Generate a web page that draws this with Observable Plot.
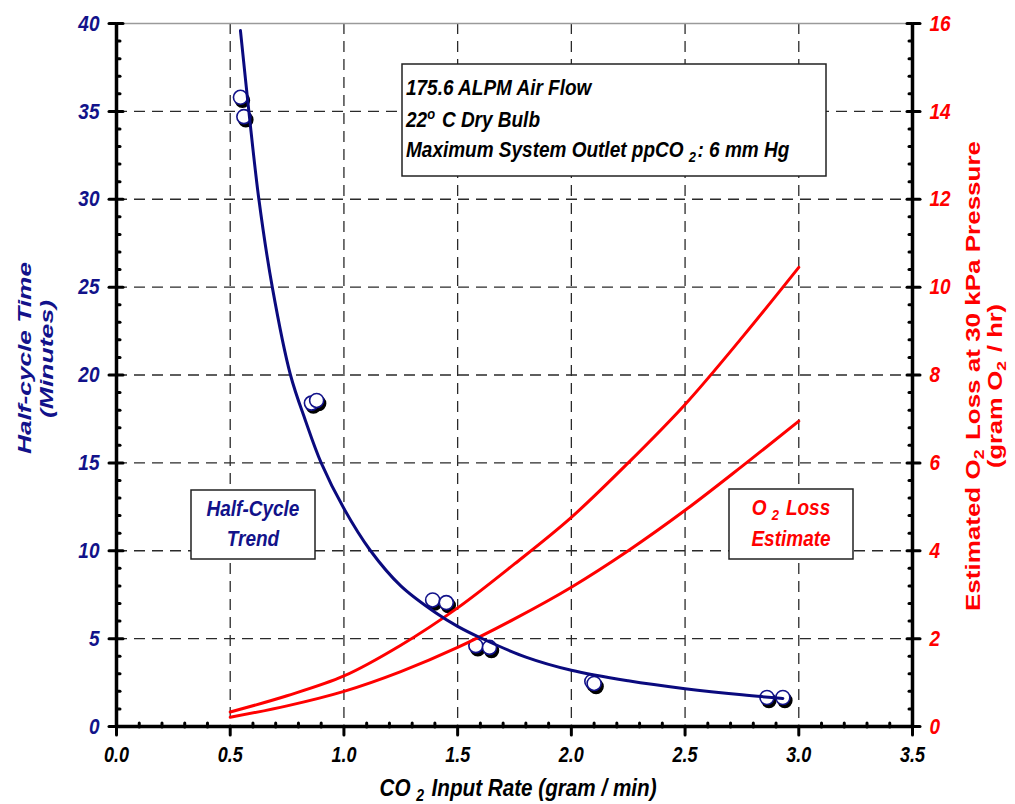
<!DOCTYPE html>
<html><head><meta charset="utf-8">
<script src="https://cdn.jsdelivr.net/npm/d3@7"></script>
<script src="https://cdn.jsdelivr.net/npm/@observablehq/plot@0.6"></script>
<style>
body{margin:0;background:#fff;}
#chart{width:1015px;height:804px;}
</style></head><body><div id="chart"></div>
<script>
// ---- data ----
const xMajor = [0, 0.5, 1.0, 1.5, 2.0, 2.5, 3.0, 3.5];
const xGridTicks = [0.5, 1.0, 1.5, 2.0, 2.5, 3.0];
const xMinor = [0.1,0.2,0.3,0.4,0.6,0.7,0.8,0.9,1.1,1.2,1.3,1.4,1.6,1.7,1.8,1.9,2.1,2.2,2.3,2.4,2.6,2.7,2.8,2.9,3.1,3.2,3.3,3.4];
const yMajor = [0, 5, 10, 15, 20, 25, 30, 35, 40];
const yGridTicks = [5, 10, 15, 20, 25, 30, 35];
const yMinor = [1,2,3,4,6,7,8,9,11,12,13,14,16,17,18,19,21,22,23,24,26,27,28,29,31,32,33,34,36,37,38,39];
const o2Max = 16; // right axis top (gram O2 / hr)

// measured half-cycle times (minutes) vs CO2 input rate (g/min)
const measX = [0.545, 0.56, 0.857, 0.88, 1.39, 1.45, 1.58, 1.64, 2.09, 2.10, 2.86, 2.93];
const measY = [35.8, 34.7, 18.4, 18.55, 7.2, 7.05, 4.6, 4.5, 2.56, 2.45, 1.65, 1.65];

// half-cycle trend curve
const trendX = [0.545, 0.582, 0.626, 0.685, 0.765, 0.831, 0.90, 1.0, 1.117, 1.25, 1.4, 1.5, 1.6, 1.8, 2.0, 2.25, 2.5, 2.75, 2.93];
const trendY = [39.6, 35.0, 30.0, 25.0, 20.0, 17.4, 15.0, 12.4, 10.0, 8.0, 6.5, 5.7, 5.05, 3.95, 3.2, 2.6, 2.15, 1.8, 1.6];

// O2 loss estimate curves (gram O2 / hr)
const o2X = [0.5, 0.75, 1.0, 1.25, 1.5, 1.75, 2.0, 2.25, 2.5, 2.75, 3.0];
const o2HighY = [0.33, 0.7, 1.15, 1.85, 2.7, 3.7, 4.76, 6.0, 7.33, 8.85, 10.45];
const o2LowY = [0.21, 0.47, 0.8, 1.25, 1.8, 2.45, 3.17, 4.0, 4.92, 5.92, 6.95];

// ---- build tables ----
const meas = measX.map((x, i) => ({x, y: measY[i]}));
const trend = trendX.map((x, i) => ({x, y: trendY[i]}));
const o2High = o2X.map((x, i) => ({x, o2: o2HighY[i]}));
const o2Low = o2X.map((x, i) => ({x, o2: o2LowY[i]}));
const k = 40 / o2Max;

const W = 1015, H = 804, mL = 116, mR = 103, mT = 23, mB = 78;
const pw = W - mL - mR, ph = H - mT - mB;
const NAVY = "#12128a", RED = "#ff0000", LINE_NAVY = "#0a0a7e";
const gridStyle = {stroke: "#2a2a2a", strokeOpacity: 1, strokeWidth: 1.3, strokeDasharray: "11,7"};
const tk = {strokeWidth: 3, strokeLinecap: "round", fill: "none", label: null};

const chart = Plot.plot({
  width: W, height: H,
  marginLeft: mL, marginRight: mR, marginTop: mT, marginBottom: mB,
  style: {fontFamily: "'Liberation Sans', Arial, sans-serif", fontSize: "18px", fontWeight: "bold", fontStyle: "italic", background: "#fff", overflow: "visible"},
  x: {domain: [0, 3.5], axis: null},
  y: {domain: [0, 40], axis: null},
  marks: [
    Plot.gridX(xGridTicks, gridStyle),
    Plot.gridY(yGridTicks, gridStyle),
    Plot.ruleY([40], {stroke: "#9a9a9a", strokeWidth: 1.5}),
    // left axis ticks
    Plot.axisY(yMajor, {anchor: "left", tickSize: 7, ...tk}),
    Plot.axisY(yMajor, {anchor: "right", dx: -pw, tickSize: 6, ...tk}),
    Plot.axisY(yMinor, {anchor: "right", dx: -pw, tickSize: 3, ...tk}),
    // right axis ticks
    Plot.axisY(yMajor, {anchor: "right", tickSize: 7, ...tk}),
    Plot.axisY(yMajor, {anchor: "left", dx: pw, tickSize: 5, ...tk}),
    Plot.axisY(yMinor, {anchor: "left", dx: pw, tickSize: 3, ...tk}),
    // bottom axis ticks
    Plot.axisX(xMajor, {anchor: "bottom", tickSize: 9, ...tk}),
    Plot.axisX(xMinor, {anchor: "top", dy: ph, tickSize: 4, ...tk}),
    // axis lines
    Plot.ruleX([0], {strokeWidth: 3.5}),
    Plot.ruleX([3.5], {strokeWidth: 3.5}),
    Plot.ruleY([0], {strokeWidth: 3.5}),
    // tick labels
    Plot.axisY(yMajor, {anchor: "left", tickSize: 0, tickPadding: 17, fill: NAVY, fontSize: 19, label: null}),
    Plot.axisY(yMajor, {anchor: "right", tickSize: 0, tickPadding: 17, fill: RED, fontSize: 19, label: null, tickFormat: d => d / k}),
    Plot.axisX(xMajor, {anchor: "bottom", tickSize: 0, tickPadding: 20, fill: "#000", fontSize: 18, label: null, tickFormat: d3.format(".1f")}),
    // measured points
    Plot.dot(meas, {x: "x", y: "y", r: 7, fill: "#000", stroke: "#000", dx: 2, dy: 3}),
    Plot.dot(meas, {x: "x", y: "y", r: 7, fill: "#fff", stroke: NAVY, strokeWidth: 1.6}),
    // curves
    Plot.line(o2High, {x: "x", y: d => d.o2 * k, stroke: RED, strokeWidth: 3, curve: "catmull-rom"}),
    Plot.line(o2Low, {x: "x", y: d => d.o2 * k, stroke: RED, strokeWidth: 3, curve: "catmull-rom"}),
    Plot.line(trend, {x: "x", y: "y", stroke: LINE_NAVY, strokeWidth: 3, curve: "catmull-rom"})
  ]
});
document.getElementById("chart").appendChild(chart);

const svg = d3.select(chart);
const VS = 1.18; // vertical stretch of text
svg.selectAll("g[aria-label$='tick label'] text").each(function() {
  const t = this.getAttribute("transform") || "";
  this.setAttribute("transform", t + ` scale(1,${VS})`);
});

const FONT = "'Liberation Sans', Arial, sans-serif";
function addText(g, x, y, parts, opts) {
  const t = g.append("text")
    .attr("transform", opts.rotate ? `translate(${x},${y}) rotate(-90)` : `translate(${x},${y}) scale(1,${VS})`)
    .attr("font-family", FONT).attr("font-size", opts.size).attr("font-weight", "bold")
    .attr("font-style", opts.italic ? "italic" : "normal")
    .attr("fill", opts.fill).attr("text-anchor", opts.anchor || "middle");
  if (opts.length) t.attr("textLength", opts.length).attr("lengthAdjust", "spacingAndGlyphs");
  for (const p of parts) {
    if (typeof p === "string") t.append("tspan").text(p);
    else {
      const s = t.append("tspan").text(p.t).attr("font-size", opts.size * 0.68);
      s.attr("dy", p.sub ? 4 : -7);
      t.append("tspan").attr("dy", p.sub ? -4 : 7).text("\u200A");
    }
  }
  return t;
}
const ann = svg.append("g");
function box(x0, y0, x1, y1) {
  ann.append("rect").attr("x", x0).attr("y", y0).attr("width", x1 - x0).attr("height", y1 - y0)
    .attr("fill", "#fff").attr("stroke", "#222").attr("stroke-width", 1.5);
}
box(402, 64, 826, 176);
addText(ann, 406, 95, ["175.6 ALPM Air Flow"], {size: 19, italic: true, fill: "#000", anchor: "start"});
addText(ann, 406, 127, ["22", {t: "o"}, " C Dry Bulb"], {size: 19, italic: true, fill: "#000", anchor: "start"});
addText(ann, 406, 157, ["Maximum System Outlet ppCO ", {t: "2", sub: true}, ": 6 mm Hg"], {size: 19, italic: true, fill: "#000", anchor: "start"});

box(191, 490, 315, 559);
addText(ann, 253, 516, ["Half-Cycle"], {size: 19, italic: true, fill: NAVY});
addText(ann, 253, 546, ["Trend"], {size: 19, italic: true, fill: NAVY});

box(729, 489, 853, 559);
addText(ann, 791, 515, ["O ", {t: "2", sub: true}, " Loss"], {size: 19, italic: true, fill: RED});
addText(ann, 791, 546, ["Estimate"], {size: 19, italic: true, fill: RED});

// axis titles
addText(ann, 518, 796, ["CO ", {t: "2", sub: true}, " Input Rate (gram / min)"], {size: 20, italic: true, fill: "#000", length: 277});
addText(ann, 31, 358, ["Half-cycle Time"], {size: 19, italic: true, fill: NAVY, rotate: true, length: 192});
addText(ann, 53, 359, ["(Minutes)"], {size: 19, italic: true, fill: NAVY, rotate: true, length: 118});
addText(ann, 980, 376, ["Estimated O", {t: "2", sub: true}, " Loss at 30 kPa Pressure"], {size: 21, italic: false, fill: RED, rotate: true, length: 470});
addText(ann, 1002, 386, ["(gram O", {t: "2", sub: true}, " / hr)"], {size: 20, italic: false, fill: RED, rotate: true, length: 164});
</script></body></html>
